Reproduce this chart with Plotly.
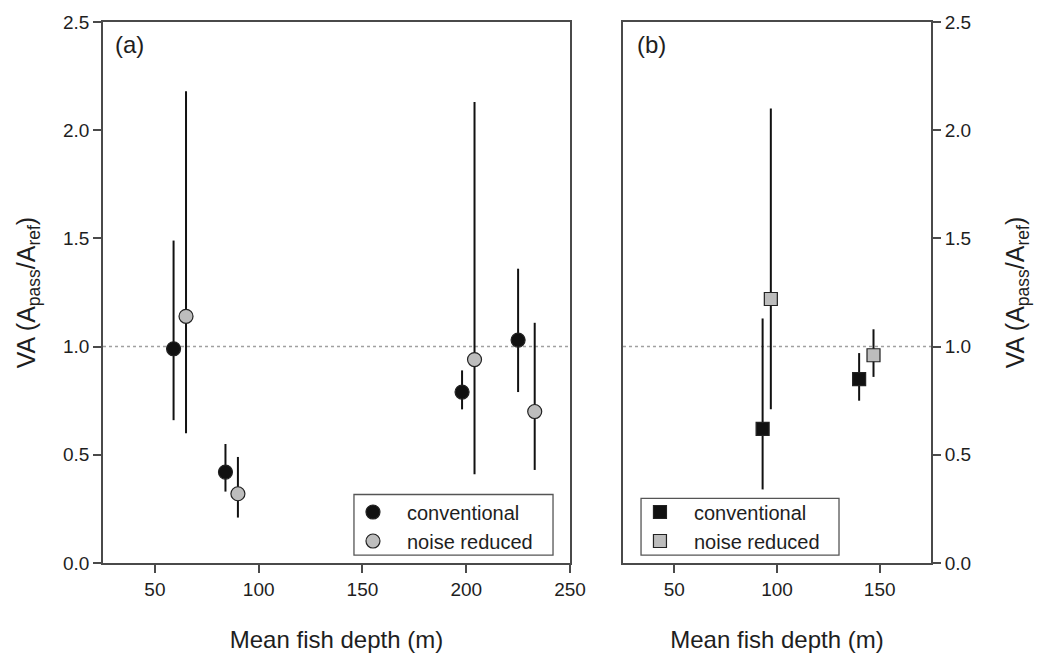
import plotly.graph_objects as go

# ---------------- data ----------------
# Panel (a) - circles
a_conv_depth = [59, 84, 198, 225]
a_conv_va = [0.99, 0.42, 0.79, 1.03]
a_conv_hi = [1.49, 0.55, 0.89, 1.36]
a_conv_lo = [0.66, 0.33, 0.71, 0.79]

a_nr_depth = [65, 90, 204, 233]
a_nr_va = [1.14, 0.32, 0.94, 0.70]
a_nr_hi = [2.18, 0.49, 2.13, 1.11]
a_nr_lo = [0.60, 0.21, 0.41, 0.43]

# Panel (b) - squares
b_conv_depth = [93, 140]
b_conv_va = [0.62, 0.85]
b_conv_hi = [1.13, 0.97]
b_conv_lo = [0.34, 0.75]

b_nr_depth = [97, 147]
b_nr_va = [1.22, 0.96]
b_nr_hi = [2.10, 1.08]
b_nr_lo = [0.71, 0.86]

series_names = ["conventional", "noise reduced"]
ref_value = 1.0
y_ticks = [0.0, 0.5, 1.0, 1.5, 2.0, 2.5]
a_x_ticks = [50, 100, 150, 200, 250]
b_x_ticks = [50, 100, 150]

FONT = "Arial, Liberation Sans, Helvetica, sans-serif"
BLACK = "#111111"
GREY = "#bdbdbd"
EDGE = "#222222"
AXC = "#4a4a4a"
TXT = "#1e1e1e"


def err(vals, hi, lo):
    return dict(type="data", symmetric=False,
                array=[h - v for h, v in zip(hi, vals)],
                arrayminus=[v - l for v, l in zip(vals, lo)],
                width=0, thickness=2, color=BLACK)


fig = go.Figure()

fig.add_trace(go.Scatter(x=a_conv_depth, y=a_conv_va, mode="markers", name=series_names[0],
                         error_y=err(a_conv_va, a_conv_hi, a_conv_lo),
                         marker=dict(symbol="circle", size=14, color=BLACK, line=dict(color=EDGE, width=1.2)),
                         xaxis="x", yaxis="y", legend="legend"))
fig.add_trace(go.Scatter(x=a_nr_depth, y=a_nr_va, mode="markers", name=series_names[1],
                         error_y=err(a_nr_va, a_nr_hi, a_nr_lo),
                         marker=dict(symbol="circle", size=14, color=GREY, line=dict(color=EDGE, width=1.2)),
                         xaxis="x", yaxis="y", legend="legend"))
fig.add_trace(go.Scatter(x=b_conv_depth, y=b_conv_va, mode="markers", name=series_names[0],
                         error_y=err(b_conv_va, b_conv_hi, b_conv_lo),
                         marker=dict(symbol="square", size=13, color=BLACK, line=dict(color=EDGE, width=1.2)),
                         xaxis="x2", yaxis="y2", legend="legend2"))
fig.add_trace(go.Scatter(x=b_nr_depth, y=b_nr_va, mode="markers", name=series_names[1],
                         error_y=err(b_nr_va, b_nr_hi, b_nr_lo),
                         marker=dict(symbol="square", size=13, color=GREY, line=dict(color=EDGE, width=1.2)),
                         xaxis="x2", yaxis="y2", legend="legend2"))

ytitle = "VA (A<sub>pass</sub>/A<sub>ref</sub>)"
common_axis = dict(showline=True, linecolor=AXC, linewidth=1.8, mirror=True,
                   ticks="outside", ticklen=8, tickwidth=1.8, tickcolor=AXC,
                   showgrid=False, zeroline=False,
                   tickfont=dict(family=FONT, size=19, color=TXT))
xt_font = dict(family=FONT, size=24, color=TXT)
yt_font = dict(family=FONT, size=25, color=TXT)

fig.update_layout(
    width=1038, height=661,
    margin=dict(l=103, r=107, t=19, b=97),
    paper_bgcolor="white", plot_bgcolor="white",
    font=dict(family=FONT, color=TXT),
    xaxis=dict(domain=[0, 0.564], range=[25, 250], tickvals=a_x_ticks,
               title=dict(text="Mean fish depth (m)", font=xt_font, standoff=32),
               **common_axis),
    yaxis=dict(range=[0, 2.5], tickvals=y_ticks, tickformat=".1f",
               title=dict(text=ytitle, font=yt_font, standoff=20),
               **common_axis),
    xaxis2=dict(domain=[0.628, 1.0], range=[25, 175], tickvals=b_x_ticks, anchor="y2",
                title=dict(text="Mean fish depth (m)", font=xt_font, standoff=32),
                **common_axis),
    yaxis2=dict(range=[0, 2.5], tickvals=y_ticks, tickformat=".1f", anchor="x2", side="right",
                title=dict(text=ytitle, font=yt_font, standoff=36),
                **common_axis),
    legend=dict(x=0.285, y=0.1303, xanchor="left", yanchor="top",
                bgcolor="rgba(0,0,0,0)", borderwidth=0,
                font=dict(family=FONT, size=20, color=TXT), itemwidth=58),
    legend2=dict(x=0.6316, y=0.1303, xanchor="left", yanchor="top",
                 bgcolor="rgba(0,0,0,0)", borderwidth=0,
                 font=dict(family=FONT, size=20, color=TXT), itemwidth=58),
    showlegend=True,
)

for xr, yr in [("x", "y"), ("x2", "y2")]:
    fig.add_shape(type="line", xref=f"{xr} domain", x0=0, x1=1, yref=yr, y0=ref_value, y1=ref_value,
                  line=dict(color="#a0a0a0", width=1.5, dash="dot"), layer="below")

# legend frames
fig.add_shape(type="rect", xref="paper", yref="paper", x0=0.3031, x1=0.5435, y0=0.0147, y1=0.1266,
              line=dict(color="#555", width=1.3), fillcolor="white", layer="above")
fig.add_shape(type="rect", xref="paper", yref="paper", x0=0.6498, x1=0.8889, y0=0.0147, y1=0.1193,
              line=dict(color="#555", width=1.3), fillcolor="white", layer="above")

fig.add_annotation(text="(a)", xref="x domain", yref="y domain", x=0.022, y=0.958,
                   xanchor="left", yanchor="middle", showarrow=False,
                   font=dict(family=FONT, size=24, color=TXT))
fig.add_annotation(text="(b)", xref="x2 domain", yref="y2 domain", x=0.04, y=0.958,
                   xanchor="left", yanchor="middle", showarrow=False,
                   font=dict(family=FONT, size=24, color=TXT))

fig.write_html("out.html")
